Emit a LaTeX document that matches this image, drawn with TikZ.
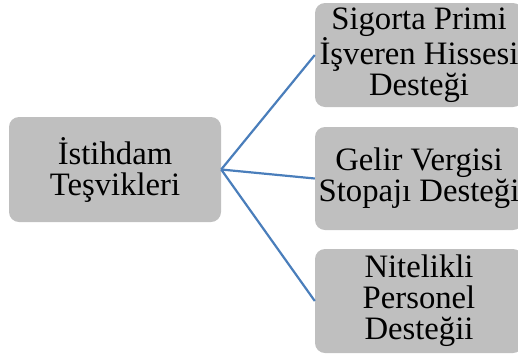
\documentclass[tikz,border=0pt]{standalone}
\usepackage{fontspec}
\setmainfont{Liberation Serif}
\definecolor{linkblue}{HTML}{4A7EBB}
\definecolor{boxgrey}{HTML}{BFBFBF}
\tikzset{
  greybox/.style={fill=boxgrey, rounded corners=10pt, align=center,
    inner sep=0pt, font=\fontsize{32.7}{31}\selectfont},
  link/.style={draw=linkblue, line width=2.2pt}
}
\begin{document}
\begin{tikzpicture}[x=1pt, y=-1pt]
        \useasboundingbox (0,0) rectangle (518,354);
        \clip (0,0) rectangle (518,354);
        \node[greybox, minimum width=212pt, minimum height=105pt] (main) at (115,169.5)
          {İstihdam\\Teşvikleri};
        \node[greybox, minimum width=208pt, minimum height=104pt] (prim) at (419,55)
          {Sigorta Primi\\İşveren Hissesi\\Desteği};
        \node[greybox, minimum width=208pt, minimum height=103pt] (gelir) at (419,178.5)
          {Gelir Vergisi\\Stopajı Desteği};
        \node[greybox, minimum width=208pt, minimum height=104pt] (nitelik) at (419,301)
          {Nitelikli\\Personel\\Desteğii};
        \foreach \b in {prim, gelir, nitelik} {
          \draw[link] (main.east) -- (\b.west);
        }
      \end{tikzpicture}
\end{document}
